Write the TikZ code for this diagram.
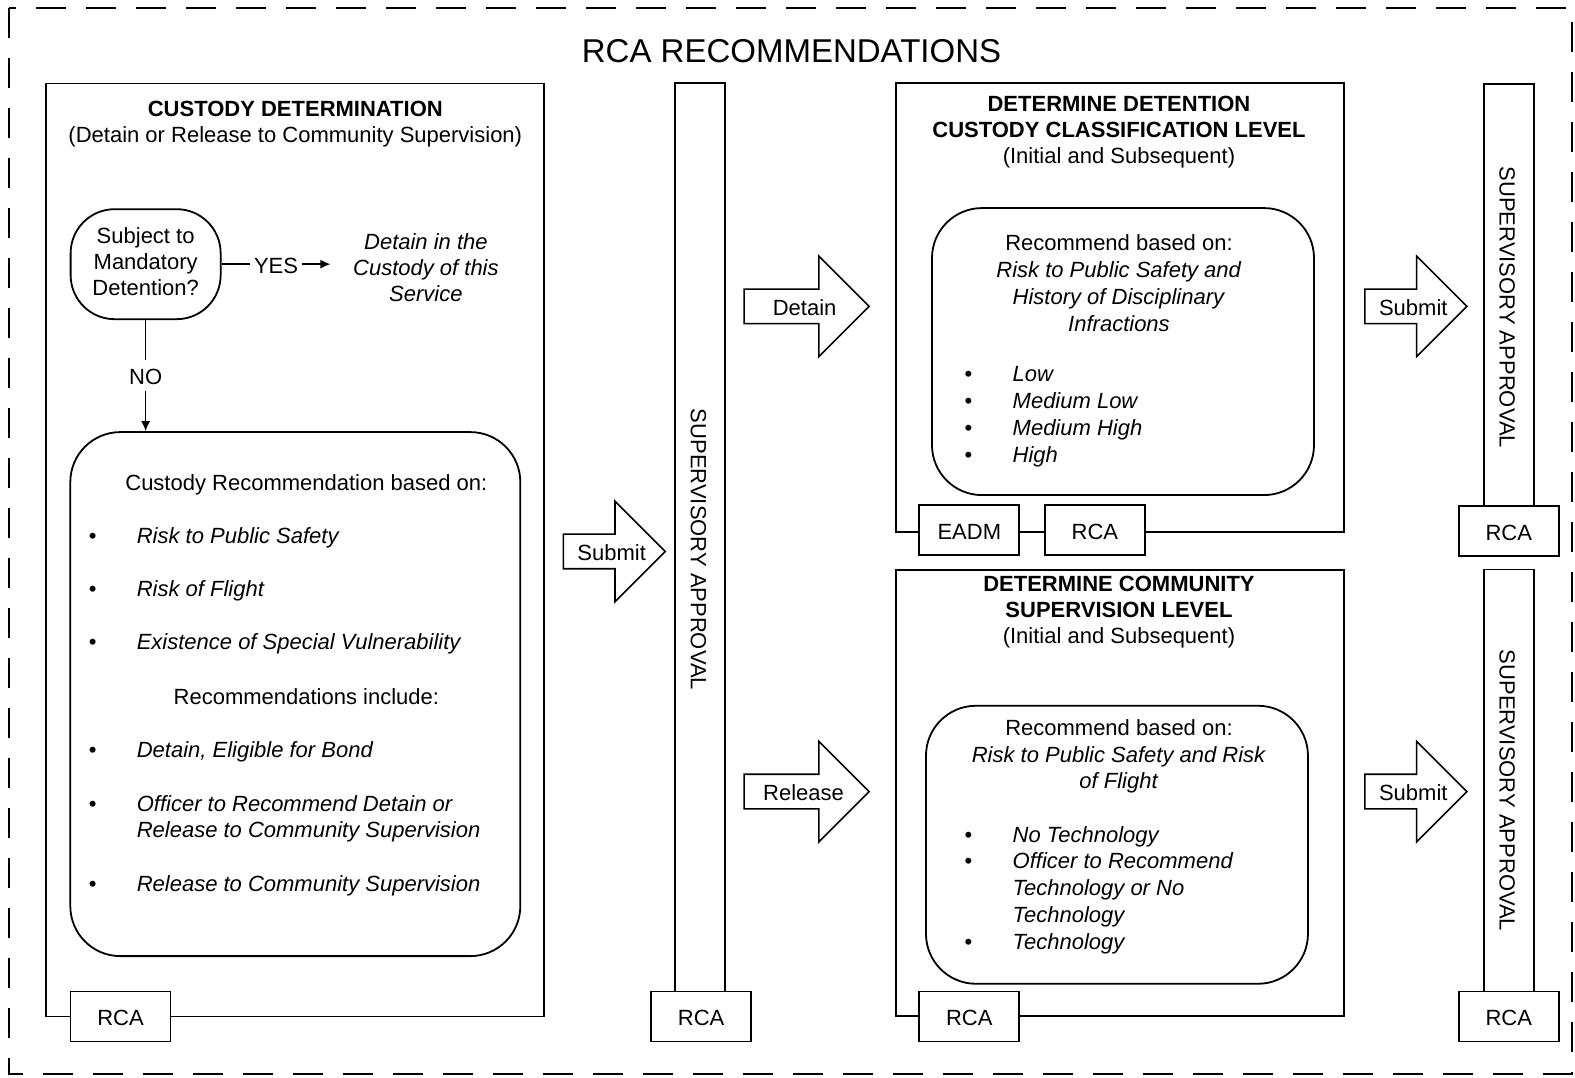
\documentclass[tikz,border=0pt]{standalone}
\usepackage{fontspec}
\setmainfont{Liberation Sans}
\usetikzlibrary{arrows.meta, shapes.arrows}
\newcommand{\itembul}{\makebox[24pt][l]{\textbullet}}
\newcommand{\itemgap}{\hspace*{24pt}}
\newcommand{\txtstrut}{\rule[-2.3pt]{0pt}{13.8pt}}

\begin{document}
\begin{tikzpicture}[x=0.50223pt, y=-0.50223pt,
    every node/.append style={font=\fontsize{11}{13}\selectfont, inner sep=0pt,
      execute at begin node=\txtstrut, execute at end node=\txtstrut},
    panel/.style={draw=black, line width=0.9pt, fill=white},
    roundbox/.style={draw=black, line width=0.9pt, rounded corners=25pt},
    tag/.style={draw=black, line width=0.9pt, fill=white, minimum width=50pt, minimum height=25pt},
    bigarrow/.style={draw=black, line width=0.8pt, single arrow, single arrow tip angle=90,
      single arrow head extend=16.5pt, text height=8pt, text depth=0pt, inner ysep=4.25pt,
      inner xsep=0pt, anchor=tail},
    flow/.style={-{Latex[length=5pt, width=4.5pt]}, line width=0.8pt}]
    \useasboundingbox (0,0) rectangle (1568,1073.2);
    \draw [line width=0.9pt, dash pattern=on 15pt off 10pt] (9,8) rectangle (1565,1069);
    \node (heading) [font=\fontsize{16.5}{20}\selectfont] at (788,53) {RCA RECOMMENDATIONS};

    \node (custbox) [panel, minimum width=249pt, minimum height=466.5pt] at (294,547.5) {};
    \node (custtitle) [align=center] at (294,124) {\textbf{CUSTODY DETERMINATION}\\(Detain or Release to Community Supervision)};
    \node (mandatory) [draw=black, line width=0.9pt, rounded corners=22pt, minimum width=75pt, minimum height=55pt, align=center] at (145,263) {Subject to\\Mandatory\\Detention?};
    \node (detainhere) [align=center, font=\fontsize{11}{13}\selectfont\itshape] at (424,269) {Detain in the\\Custody of this\\Service};
    \coordinate (yesend) at (329,263);
    \draw [flow] (mandatory.east) -- node [fill=white, inner xsep=2pt] {YES} (yesend);
    \node (recbox) [roundbox, minimum width=225pt, minimum height=262pt] at (294,691) {};
    \draw [flow] (mandatory.south) -- node [fill=white, inner ysep=1pt] {NO} (mandatory.south |- recbox.north);
    \node (basis) at (305,479) {Custody Recommendation based on:};
    \node (factors) [align=left, anchor=west] at (88,588) {\itembul\textit{Risk to Public Safety}\\[13.5pt]\itembul\textit{Risk of Flight}\\[13.5pt]\itembul\textit{Existence of Special Vulnerability}};
    \node (include) at (305,692) {Recommendations include:};
    \node (options) [align=left, anchor=west] at (88,815) {\itembul\textit{Detain, Eligible for Bond}\\[14pt]\itembul\textit{Officer to Recommend Detain or}\\\itemgap\textit{Release to Community Supervision}\\[14pt]\itembul\textit{Release to Community Supervision}};
    \node (rca1) [tag] at (120,1012) {RCA};

    \node (submit1) [bigarrow, minimum height=51pt] at (560,549) {};
    \node (submit1txt) at (609,549) {Submit};
    \node (supbar1) [panel, minimum width=25pt, minimum height=454pt] at (697,535) {};
    \node (suptxt1) [rotate=-90] at (697,547) {SUPERVISORY APPROVAL};
    \node (rca2) [tag] at (698,1012) {RCA};
    \node (detainarr) [bigarrow, minimum height=62.5pt] at (740,305) {};
    \node (detaintxt) at (801,305) {Detain};
    \node (releasearr) [bigarrow, minimum height=62.5pt] at (740,788) {};
    \node (releasetxt) at (800,788) {Release};

    \node (detbox) [panel, minimum width=224pt, minimum height=224.5pt] at (1115,306.5) {};
    \node (dettitle) [align=center] at (1114,132) {\textbf{DETERMINE DETENTION}\\\textbf{CUSTODY CLASSIFICATION LEVEL}\\(Initial and Subsequent)};
    \node (detinner) [roundbox, minimum width=191pt, minimum height=143.5pt] at (1118,350) {};
    \node (detbasis) [align=center, font=\fontsize{11}{13.4}\selectfont] at (1114,284) {Recommend based on:\\\textit{Risk to Public Safety and}\\\textit{History of Disciplinary}\\\textit{Infractions}};
    \node (levels) [align=left, anchor=west, font=\fontsize{11}{13.4}\selectfont] at (960,415) {\itembul\textit{Low}\\\itembul\textit{Medium Low}\\\itembul\textit{Medium High}\\\itembul\textit{High}};
    \node (eadm) [tag] at (965,528) {EADM};
    \node (rca3) [tag] at (1090,528) {RCA};

    \node (supbox) [panel, minimum width=224pt, minimum height=223pt] at (1115,789.5) {};
    \node (suptitle) [align=center] at (1114,609) {\textbf{DETERMINE COMMUNITY}\\\textbf{SUPERVISION LEVEL}\\(Initial and Subsequent)};
    \node (supinner) [roundbox, minimum width=191pt, minimum height=139pt] at (1112,841) {};
    \node (supbasis) [align=center, font=\fontsize{11}{13.4}\selectfont] at (1114,753) {Recommend based on:\\\textit{Risk to Public Safety and Risk}\\\textit{of Flight}};
    \node (techlevels) [align=left, anchor=west, font=\fontsize{11}{13.4}\selectfont] at (960,886) {\itembul\textit{No Technology}\\\itembul\textit{Officer to Recommend}\\\itemgap\textit{Technology or No}\\\itemgap\textit{Technology}\\\itembul\textit{Technology}};
    \node (rca4) [tag] at (965,1012) {RCA};

    \node (submit2) [bigarrow, minimum height=51pt] at (1358,305) {};
    \node (submit2txt) at (1407,305) {Submit};
    \node (supbar2) [panel, minimum width=25pt, minimum height=211pt] at (1502,294) {};
    \node (suptxt2) [rotate=-90] at (1502,306) {SUPERVISORY APPROVAL};
    \node (rca5) [tag] at (1502,529) {RCA};
    \node (submit3) [bigarrow, minimum height=51pt] at (1358,788) {};
    \node (submit3txt) at (1407,788) {Submit};
    \node (supbar3) [panel, minimum width=25pt, minimum height=211pt] at (1502,777) {};
    \node (suptxt3) [rotate=-90] at (1502,787) {SUPERVISORY APPROVAL};
    \node (rca6) [tag] at (1502,1012) {RCA};
\end{tikzpicture}
\end{document}
